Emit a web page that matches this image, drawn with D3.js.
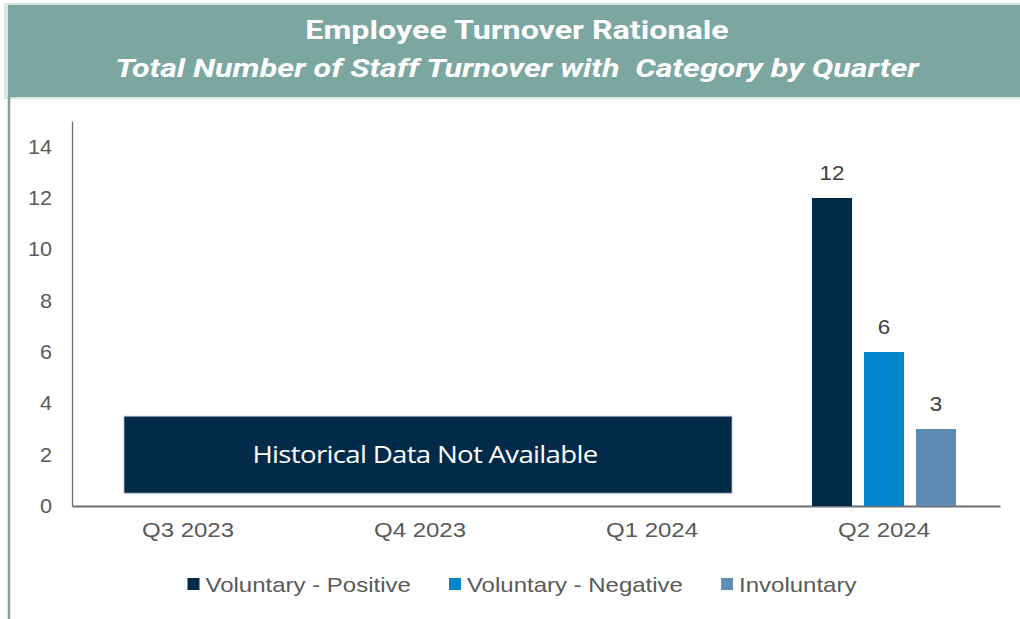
<!DOCTYPE html>
<html>
<head>
<meta charset="utf-8">
<script src="https://cdn.jsdelivr.net/npm/d3@7"></script>
<style>
  body { margin: 0; background: #fff; }
  svg { display: block; font-family: "Liberation Sans", Arial, sans-serif; }
</style>
</head>
<body>
<svg id="chart"></svg>
<script>
// chart data
const quarters = ["Q3 2023", "Q4 2023", "Q1 2024", "Q2 2024"];
const seriesNames = ["Voluntary - Positive", "Voluntary - Negative", "Involuntary"];
const seriesColors = ["#022b4a", "#0085ca", "#5f8cb5"];
// values per quarter, null where no data
const voluntaryPositive = [null, null, null, 12];
const voluntaryNegative = [null, null, null, 6];
const involuntary = [null, null, null, 3];
const yTicks = [0, 2, 4, 6, 8, 10, 12, 14];
const noDataQuarters = ["Q3 2023", "Q1 2024"]; // first and last quarter covered by the note
const noDataRange = [0.5, 3.5];

const width = 1020;
const height = 619;
const margin = { top: 121, right: 20, bottom: 113, left: 72 };
const headerColor = "#7ba7a0";
const textGray = "#595959";
const stretchX = 1.2; // text in the source is drawn a bit wide

// widen text horizontally while keeping its anchor point
function stretch(sel, k = stretchX) {
  sel.each(function () {
    const t = d3.select(this);
    const x = +t.attr("x") || 0;
    t.attr("x", x / k).attr("transform", `scale(${k},1)`);
  });
}

const svg = d3.select("#chart").attr("width", width).attr("height", height);

// header band + left border
svg.append("rect")
  .attr("x", 4).attr("y", 3).attr("width", width - 4).attr("height", 96)
  .attr("fill", "#d9e6e3");
svg.append("rect")
  .attr("x", 8).attr("y", 5).attr("width", width - 8).attr("height", 92)
  .attr("fill", headerColor);
svg.append("line")
  .attr("x1", 9).attr("x2", 9).attr("y1", 97).attr("y2", height)
  .attr("stroke", headerColor).attr("stroke-width", 2.5);

const title = svg.append("text")
  .attr("x", 517).attr("y", 39)
  .attr("text-anchor", "middle")
  .attr("fill", "#fff")
  .attr("font-family", "Roboto, sans-serif")
  .attr("font-size", 26).attr("font-weight", "bold")
  .text("Employee Turnover Rationale");
const subtitle = svg.append("text")
  .attr("x", 517).attr("y", 77)
  .attr("text-anchor", "middle")
  .attr("fill", "#fff")
  .attr("font-family", "Roboto, sans-serif")
  .attr("font-size", 26).attr("font-weight", "bold").attr("font-style", "italic")
  .attr("xml:space", "preserve")
  .text("Total Number of Staff Turnover with  Category by Quarter");
stretch(title, 1.24);
stretch(subtitle, 1.24);

// scales
const plotBottom = height - margin.bottom;
const x0 = d3.scaleBand().domain(quarters).range([margin.left, 1000]).padding(0);
const groupWidth = 144;
const x1 = d3.scaleBand().domain(seriesNames).range([0, groupWidth]).paddingInner(0.23);
const y = d3.scaleLinear().domain([0, 15]).range([plotBottom, margin.top]);

// y axis
const yAxis = svg.append("g")
  .attr("transform", `translate(${margin.left},0)`)
  .call(d3.axisLeft(y).tickValues(yTicks).tickSize(0).tickPadding(20));
yAxis.select(".domain").attr("stroke", "#6f6f6f").attr("stroke-width", 1.3);
yAxis.selectAll("text")
  .attr("fill", textGray).attr("font-size", 20)
  .attr("font-family", "Liberation Sans, Arial, sans-serif")
  .call(stretch, 1.08);

// x axis
const xAxis = svg.append("g")
  .attr("transform", `translate(0,${plotBottom})`)
  .call(d3.axisBottom(x0).tickSize(0).tickPadding(17));
xAxis.select(".domain").attr("stroke", "#6f6f6f").attr("stroke-width", 2);
xAxis.selectAll("text")
  .attr("fill", textGray).attr("font-size", 20)
  .attr("font-family", "Liberation Sans, Arial, sans-serif")
  .call(stretch);

// grouped bars
const seriesValues = [voluntaryPositive, voluntaryNegative, involuntary];
const barData = [];
quarters.forEach((q, qi) => {
  seriesNames.forEach((s, si) => {
    const v = seriesValues[si][qi];
    if (v != null) barData.push({ quarter: q, series: s, color: seriesColors[si], value: v });
  });
});
const groupOffset = (x0.bandwidth() - groupWidth) / 2;
const barX = (d) => x0(d.quarter) + groupOffset + x1(d.series);

svg.append("g").selectAll("rect")
  .data(barData)
  .join("rect")
  .attr("x", barX)
  .attr("y", (d) => y(d.value))
  .attr("width", x1.bandwidth())
  .attr("height", (d) => y(0) - y(d.value))
  .attr("fill", (d) => d.color);

svg.append("g").selectAll("text")
  .data(barData)
  .join("text")
  .attr("x", (d) => barX(d) + x1.bandwidth() / 2)
  .attr("y", (d) => y(d.value) - 18)
  .attr("text-anchor", "middle")
  .attr("fill", "#404040")
  .attr("font-size", 20)
  .text((d) => d.value)
  .call(stretch, 1.12);

// "no data" note box
const boxLeft = x0(noDataQuarters[0]) + 52;
const boxRight = x0(noDataQuarters[1]) + x0.bandwidth() - 36;
svg.append("rect")
  .attr("x", boxLeft)
  .attr("y", y(noDataRange[1]))
  .attr("width", boxRight - boxLeft)
  .attr("height", y(noDataRange[0]) - y(noDataRange[1]))
  .attr("fill", "#022b4a")
  .attr("stroke", "#b4bfcc").attr("stroke-width", 0.8);
svg.append("text")
  .attr("x", (boxLeft + boxRight) / 2 - 3)
  .attr("y", y((noDataRange[0] + noDataRange[1]) / 2) + 8)
  .attr("text-anchor", "middle")
  .attr("fill", "#fff")
  .attr("font-size", 24)
  .attr("font-family", "'Open Sans', 'Noto Sans', sans-serif")
  .attr("letter-spacing", -0.6)
  .text("Historical Data Not Available")
  .call(stretch, 1.15);

// legend
const legend = svg.append("g");
const items = legend.selectAll("g")
  .data(seriesNames)
  .join("g");
items.append("rect")
  .attr("width", 12).attr("height", 12)
  .attr("y", -14)
  .attr("fill", (d, i) => seriesColors[i]);
items.append("text")
  .attr("x", 18)
  .attr("fill", textGray)
  .attr("font-size", 20)
  .text((d) => d);

let cursor = 0;
items.each(function () {
  const g = d3.select(this);
  g.attr("transform", `translate(${cursor},0)`);
  cursor += 18 + g.select("text").node().getComputedTextLength() * stretchX + 38;
});
items.selectAll("text").call(stretch);
const legendWidth = cursor - 38;
legend.attr("transform", `translate(${522 - legendWidth / 2},592)`);
</script>
</body>
</html>
